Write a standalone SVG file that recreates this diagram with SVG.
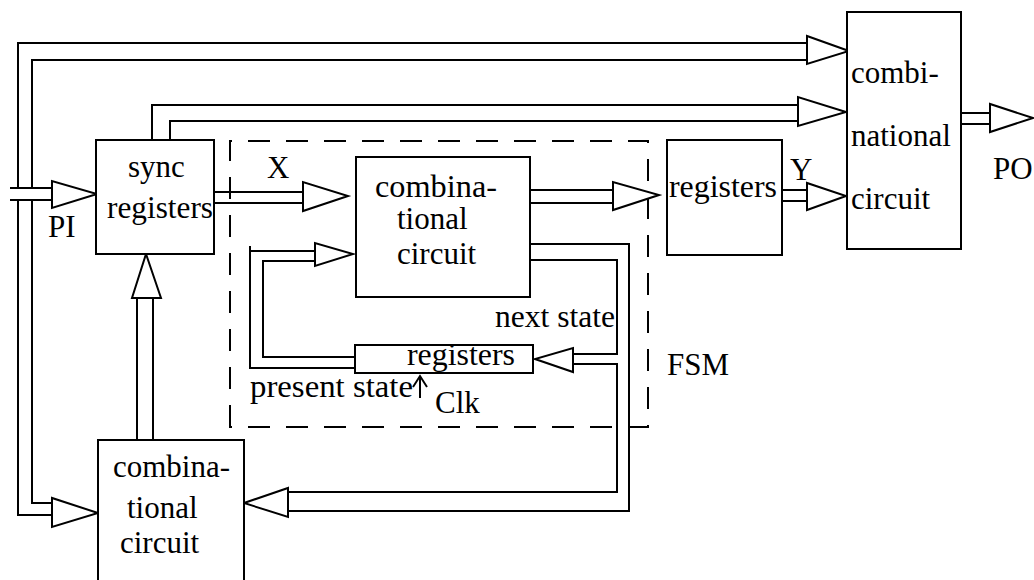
<svg xmlns="http://www.w3.org/2000/svg" width="1034" height="580" viewBox="0 0 1034 580">
<style>
.box{fill:#fff;stroke:#000;stroke-width:2}
.ln{fill:none;stroke:#000;stroke-width:2}
.tri{fill:#fff;stroke:#000;stroke-width:2;stroke-linejoin:miter}
.dash{fill:none;stroke:#000;stroke-width:2;stroke-dasharray:22 16}
text{font-family:"Liberation Serif","Times New Roman",serif;font-size:31px;fill:#000}
</style>
<rect width="1034" height="580" fill="#fff"/>
<g id="fsm-boundary">
<path class="dash" d="M230,427 V141 H648 V427 Z"/>
<text x="667" y="375">FSM</text>
</g>
<g id="connectors">
<path class="ln" d="M18,188 V43 H807"/>
<path class="ln" d="M32,188 V60 H807"/>
<path class="ln" d="M18,200 V515 H52"/>
<path class="ln" d="M32,200 V503 H52"/>
<path class="ln" d="M10,188 H52 M10,200 H52"/>
<polygon class="tri" points="52,181 52,208 97,194"/>
<polygon class="tri" points="52,498 52,527 98,513"/>
<path class="ln" d="M152,140 V105 H798"/>
<path class="ln" d="M170,140 V121 H798"/>
<polygon class="tri" points="807,36 807,64 849,51"/>
<polygon class="tri" points="798,97 798,126 846,112"/>
<path class="ln" d="M214,192 H303 M214,203 H303"/>
<polygon class="tri" points="303,182 303,211 348,196"/>
<path class="ln" d="M530,190 H613 M530,203 H613"/>
<polygon class="tri" points="613,182 613,210 659,195"/>
<path class="ln" d="M782,190 H807 M782,201 H807"/>
<polygon class="tri" points="807,183 807,210 846,196"/>
<path class="ln" d="M961,113 H990 M961,124 H990"/>
<polygon class="tri" points="990,104 990,132 1033,118"/>
<path class="ln" d="M355,368 H250 V246 M250,251 H315"/>
<path class="ln" d="M355,357 H263 V261 H315"/>
<polygon class="tri" points="315,243 315,266 353,254"/>
<path class="ln" d="M530,260 H617 V354 H573"/>
<path class="ln" d="M573,364 H617 V492 H288"/>
<path class="ln" d="M530,244 H629 V511 H288"/>
<polygon class="tri" points="573,348 573,372 535,359"/>
<polygon class="tri" points="288,488 288,517 244,503"/>
<path class="ln" d="M137,440 V298 M153,440 V298"/>
<polygon class="tri" points="132,298 161,298 146,254"/>
<path class="ln" d="M420,398 V377 M413,387 L420,376 L427,387"/>
</g>
<g id="sync-registers">
<rect class="box" x="96" y="140" width="118" height="114"/>
<text x="128" y="177">sync</text>
<text x="107" y="218" textLength="106" lengthAdjust="spacingAndGlyphs">registers</text>
</g>
<g id="fsm-comb">
<rect class="box" x="356" y="157" width="174" height="140"/>
<text x="375" y="197" textLength="122" lengthAdjust="spacingAndGlyphs">combina-</text>
<text x="397" y="229">tional</text>
<text x="397" y="264">circuit</text>
</g>
<g id="state-registers">
<rect class="box" x="355" y="345" width="178" height="28"/>
<text x="407" y="365" textLength="108" lengthAdjust="spacingAndGlyphs">registers</text>
</g>
<g id="y-registers">
<rect class="box" x="667" y="140" width="115" height="115"/>
<text x="669" y="197" textLength="108" lengthAdjust="spacingAndGlyphs">registers</text>
</g>
<g id="output-comb">
<rect class="box" x="847" y="12" width="114" height="237"/>
<text x="851" y="83">combi-</text>
<text x="851" y="146">national</text>
<text x="851" y="209">circuit</text>
</g>
<g id="input-comb">
<rect class="box" x="98" y="440" width="146" height="160"/>
<text x="113" y="477" textLength="117" lengthAdjust="spacingAndGlyphs">combina-</text>
<text x="127" y="518">tional</text>
<text x="120" y="553">circuit</text>
</g>
<g id="labels">
<text x="267" y="178">X</text>
<text x="790" y="180">Y</text>
<text x="48" y="237">PI</text>
<text x="993" y="179">PO</text>
<text x="495" y="327" textLength="120" lengthAdjust="spacingAndGlyphs">next state</text>
<text x="250" y="397" textLength="163" lengthAdjust="spacingAndGlyphs">present state</text>
<text x="435" y="413">Clk</text>
</g>
</svg>
